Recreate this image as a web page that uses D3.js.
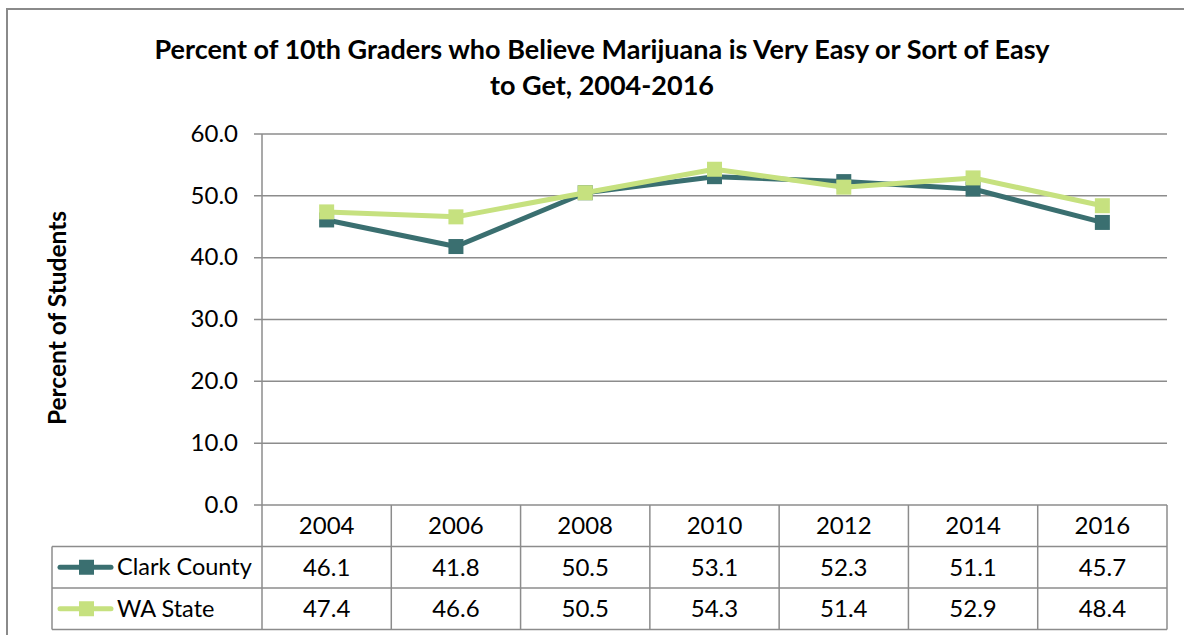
<!DOCTYPE html>
<html>
<head>
<meta charset="utf-8">
<script src="https://cdnjs.cloudflare.com/ajax/libs/d3/7.8.5/d3.min.js"></script>
<style>
	body { margin:0; background:#fff; }
	text { font-family: Lato, "Open Sans", sans-serif; fill:#000; }
</style>
</head>
<body>
<div id="chart-box"></div>
<script>
// Data
const years= ["2004","2006","2008","2010","2012","2014","2016"];
const clarkCounty= [46.1,41.8,50.5,53.1,52.3,51.1,45.7];
const waState= [47.4,46.6,50.5,54.3,51.4,52.9,48.4];
const seriesNames= ["Clark County","WA State"];
const yTicks= [0,10,20,30,40,50,60];

const chart=
{
	draw: function ()
	{
		const w= 1184;
		const h= 635;
		const left= 262, right= 1167, top= 134, bottom= 505;
		const rowH= 41.5;
		const gridCol= "#8c8c8c";
		const colors= ["#3a6f70","#c6e17f"];
		const series= [clarkCounty,waState];

		const svg= d3.select("#chart-box")
		.append("svg")
		.attr("width", w)
		.attr("height", h);

		// outer frame
		svg.append("rect")
		.attr("x",7).attr("y",9)
		.attr("width",1200).attr("height",700)
		.attr("fill","none")
		.attr("stroke","#8a8a8a")
		.attr("stroke-width",2);

		// title
		const title= svg.append("text")
		.attr("text-anchor","middle")
		.style("font-weight","bold")
		.style("font-size","27px");
		title.append("tspan").attr("x",602).attr("y",59)
		.text("Percent of 10th Graders who Believe Marijuana is Very Easy or Sort of Easy");
		title.append("tspan").attr("x",602).attr("y",95)
		.text("to Get, 2004-2016");

		// y axis title
		svg.append("text")
		.attr("transform","translate(66,318) rotate(-90)")
		.attr("text-anchor","middle")
		.style("font-weight","bold")
		.style("font-size","24.5px")
		.text("Percent of Students");

		// scales
		const xScale= d3.scaleBand()
		.domain(years)
		.range([left,right]);
		const yScale= d3.scaleLinear()
		.domain([0,60])
		.range([bottom,top]);

		// gridlines
		svg.append("g")
		.selectAll("line")
		.data(yTicks)
		.enter()
		.append("line")
		.attr("x1",left-8)
		.attr("x2",right)
		.attr("y1",(d)=> yScale(d))
		.attr("y2",(d)=> yScale(d))
		.attr("stroke",gridCol)
		.attr("stroke-width",1.5);

		// y axis labels
		const yAxis= d3.axisLeft(yScale)
		.tickValues(yTicks)
		.tickFormat(d3.format(".1f"))
		.tickSize(0)
		.tickPadding(24);
		const yG= svg.append("g")
		.attr("transform","translate("+left+",0)")
		.call(yAxis);
		yG.select(".domain").remove();
		yG.selectAll("text")
		.style("font-family","Lato, sans-serif")
		.style("font-size","24px")
		.attr("dy","0.3em");

		// axis line through the table header
		svg.append("line")
		.attr("x1",left).attr("x2",left)
		.attr("y1",top).attr("y2",bottom+rowH*3)
		.attr("stroke",gridCol).attr("stroke-width",1.5);

		// data table
		const table= svg.append("g");
		const rowsY= [bottom, bottom+rowH, bottom+rowH*2, bottom+rowH*3];
		// horizontal lines
		table.selectAll(".hline")
		.data(rowsY.slice(1))
		.enter()
		.append("line")
		.attr("x1",52).attr("x2",right)
		.attr("y1",(d)=> d).attr("y2",(d)=> d)
		.attr("stroke",gridCol).attr("stroke-width",1.5);
		// vertical lines
		const colEdges= years.map((y)=> xScale(y)+xScale.bandwidth());
		table.selectAll(".vline")
		.data(colEdges)
		.enter()
		.append("line")
		.attr("x1",(d)=> d).attr("x2",(d)=> d)
		.attr("y1",bottom).attr("y2",bottom+rowH*3)
		.attr("stroke",gridCol).attr("stroke-width",1.5);
		table.append("line")
		.attr("x1",52).attr("x2",52)
		.attr("y1",bottom+rowH).attr("y2",bottom+rowH*3)
		.attr("stroke",gridCol).attr("stroke-width",1.5);

		// header years
		table.selectAll(".yr")
		.data(years)
		.enter()
		.append("text")
		.attr("x",(d)=> xScale(d)+xScale.bandwidth()/2)
		.attr("y",bottom+rowH/2)
		.attr("dy","0.35em")
		.attr("text-anchor","middle")
		.style("font-size","24px")
		.text((d)=> d);

		// values and legend keys
		series.forEach((vals,s)=>
		{
			const cy= bottom+rowH*(s+1)+rowH/2;
			table.selectAll(".v"+s)
			.data(vals)
			.enter()
			.append("text")
			.attr("x",(d,i)=> xScale(years[i])+xScale.bandwidth()/2)
			.attr("y",cy)
			.attr("dy","0.35em")
			.attr("text-anchor","middle")
			.style("font-size","24px")
			.text((d)=> d.toFixed(1));
			table.append("line")
			.attr("x1",60).attr("x2",111)
			.attr("y1",cy).attr("y2",cy)
			.attr("stroke",colors[s]).attr("stroke-width",5)
			.attr("stroke-linecap","round");
			table.append("rect")
			.attr("x",79).attr("y",cy-7.5)
			.attr("width",15).attr("height",15)
			.attr("fill",colors[s]);
			table.append("text")
			.attr("x",117)
			.attr("y",cy)
			.attr("dy","0.35em")
			.style("font-size","23.5px")
			.text(seriesNames[s]);
		});

		// lines and markers
		const line= d3.line()
		.x((d,i)=> xScale(years[i])+xScale.bandwidth()/2)
		.y((d)=> yScale(d));
		series.forEach((vals,s)=>
		{
			svg.append("path")
			.datum(vals)
			.attr("d",line)
			.attr("fill","none")
			.attr("stroke",colors[s])
			.attr("stroke-width",5)
			.attr("stroke-linejoin","round");
			svg.selectAll(".m"+s)
			.data(vals)
			.enter()
			.append("rect")
			.attr("x",(d,i)=> xScale(years[i])+xScale.bandwidth()/2-7.5)
			.attr("y",(d)=> yScale(d)-7.5)
			.attr("width",15)
			.attr("height",15)
			.attr("fill",colors[s]);
		});
	}
};

document.addEventListener("DOMContentLoaded", function(event)
{
	chart.draw();
});
</script>
</body>
</html>
